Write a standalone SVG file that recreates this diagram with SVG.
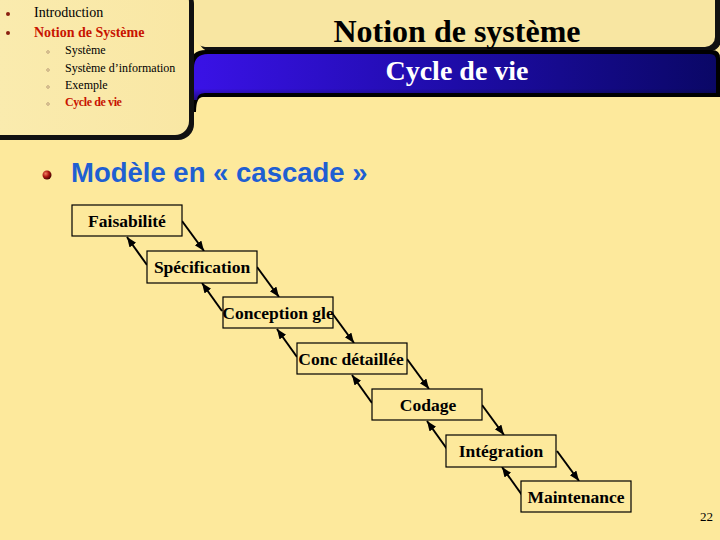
<svg xmlns="http://www.w3.org/2000/svg" width="720" height="540" viewBox="0 0 720 540">
<defs>
<linearGradient id="band" x1="0" y1="0" x2="1" y2="0">
<stop offset="0" stop-color="#3A12E6"/>
<stop offset="0.5" stop-color="#1E0CA8"/>
<stop offset="1" stop-color="#0A0766"/>
</linearGradient>
<linearGradient id="bandv" x1="0" y1="0" x2="0" y2="1">
<stop offset="0" stop-color="#000" stop-opacity="0"/>
<stop offset="0.75" stop-color="#000" stop-opacity="0"/>
<stop offset="1" stop-color="#000" stop-opacity="0.45"/>
</linearGradient>
<linearGradient id="panel" x1="0" y1="0" x2="1" y2="0">
<stop offset="0" stop-color="#FFFFF0"/>
<stop offset="0.06" stop-color="#FAEBAE"/>
<stop offset="1" stop-color="#F9E7A4"/>
</linearGradient>
<radialGradient id="ball" cx="0.35" cy="0.35" r="0.7">
<stop offset="0" stop-color="#F08060"/>
<stop offset="0.5" stop-color="#B01810"/>
<stop offset="1" stop-color="#400000"/>
</radialGradient>
<marker id="ah" markerUnits="userSpaceOnUse" markerWidth="12" markerHeight="10" refX="10" refY="4" orient="auto">
<path d="M0,0 L10,4 L0,8 Z" fill="#000"/>
</marker>
<style>
.t{font-family:"Liberation Serif","Times New Roman",serif}
.menu{font-size:14px;fill:#000}
.red{fill:#C81400;font-weight:bold}
.box rect{fill:#FDE99C;stroke:#000;stroke-width:1.2}
.box text{font-family:"Liberation Serif","Times New Roman",serif;font-weight:bold;font-size:17.5px;text-anchor:middle;fill:#000}
.conn line{stroke:#000;stroke-width:2;marker-end:url(#ah)}
</style>
</defs>
<rect width="720" height="540" fill="#FDE99C"/>

<g id="header">
<rect x="199" y="-12" width="522" height="63" rx="11" fill="#111"/>
<rect x="195" y="-12" width="520" height="59" rx="10" fill="#F8E6A2"/>
<path d="M190,112 L190,66 Q190,50 206,50 L712,50 Q720,50 720,58 L720,97 L203,97 Q196,97 196,112 Z" fill="#000"/>
<path d="M194,100 L194,68 Q194,54 208,54 L710,54 Q716,54 716,60 L716,93 L205,93 Q197,93 197,100 Z" fill="url(#band)"/>
<path d="M194,100 L194,68 Q194,54 208,54 L710,54 Q716,54 716,60 L716,93 L205,93 Q197,93 197,100 Z" fill="url(#bandv)"/>
<rect x="-14" y="-12" width="208" height="152" rx="16" fill="#111"/>
<rect x="-14" y="-12" width="203" height="147" rx="14" fill="url(#panel)"/>
<text class="t" x="457" y="42" font-size="32" font-weight="bold" text-anchor="middle" fill="#000">Notion de système</text>
<text class="t" x="457" y="80" font-size="28" font-weight="bold" text-anchor="middle" fill="#FFFFFF">Cycle de vie</text>
</g>

<g id="menu">
<circle cx="8" cy="14" r="2" fill="#8A2010"/>
<circle cx="8" cy="33" r="2" fill="#8A2010"/>
<text class="t menu" x="34" y="17">Introduction</text>
<text class="t menu red" x="34" y="37">Notion de Système</text>
<g fill="none" stroke="#B09070" stroke-width="0.8">
<circle cx="48" cy="52" r="1.3"/>
<circle cx="48" cy="70" r="1.3"/>
<circle cx="48" cy="87" r="1.3"/>
<circle cx="48" cy="104" r="1.3"/>
</g>
<text class="t" x="65" y="54" font-size="12">Système</text>
<text class="t" x="65" y="72" font-size="12">Système d’information</text>
<text class="t" x="65" y="89" font-size="12">Exemple</text>
<text class="t red" x="65" y="106" font-size="12" letter-spacing="-0.4">Cycle de vie</text>
</g>

<g id="heading">
<circle cx="47" cy="175" r="4.5" fill="url(#ball)"/>
<text x="71" y="182" font-family="Liberation Sans, Arial, sans-serif" font-size="27.5" font-weight="bold" fill="#1F5FD2">Modèle en « cascade »</text>
</g>

<g class="conn" id="connectors">
<line x1="182" y1="221" x2="204" y2="251"/>
<line x1="147" y1="265" x2="127" y2="237"/>
<line x1="257" y1="267" x2="279" y2="297"/>
<line x1="222" y1="311" x2="202" y2="283"/>
<line x1="332" y1="313" x2="354" y2="343"/>
<line x1="297" y1="357" x2="277" y2="329"/>
<line x1="407" y1="359" x2="429" y2="389"/>
<line x1="372" y1="403" x2="352" y2="375"/>
<line x1="482" y1="405" x2="504" y2="435"/>
<line x1="447" y1="449" x2="427" y2="421"/>
<line x1="557" y1="451" x2="579" y2="481"/>
<line x1="522" y1="495" x2="502" y2="467"/>
</g>

<g class="box" id="n1"><rect x="72" y="205" width="110" height="31"/><text x="127" y="227">Faisabilité</text></g>
<g class="box" id="n2"><rect x="147" y="251" width="110" height="32"/><text x="202" y="273">Spécification</text></g>
<g class="box" id="n3"><rect x="223" y="297" width="110" height="31"/><text x="278" y="319">Conception gle</text></g>
<g class="box" id="n4"><rect x="297" y="343" width="110" height="31"/><text x="351" y="365">Conc détaillée</text></g>
<g class="box" id="n5"><rect x="372" y="389" width="110" height="31"/><text x="428" y="411">Codage</text></g>
<g class="box" id="n6"><rect x="446" y="435" width="110" height="32"/><text x="501" y="457">Intégration</text></g>
<g class="box" id="n7"><rect x="521" y="481" width="110" height="31"/><text x="576" y="503">Maintenance</text></g>

<text class="t" x="713" y="521" font-size="13" text-anchor="end" fill="#000">22</text>
</svg>
